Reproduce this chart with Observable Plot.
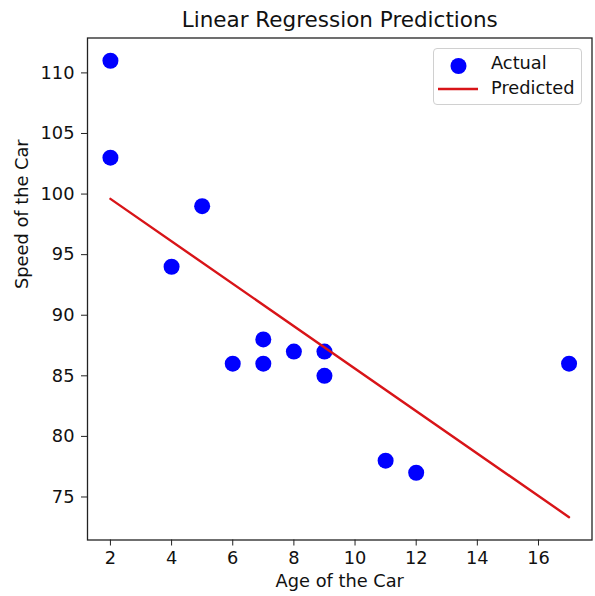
<!DOCTYPE html>
<html>
<head>
<meta charset="utf-8">
<script src="https://cdn.jsdelivr.net/npm/d3@7"></script>
<script src="https://cdn.jsdelivr.net/npm/@observablehq/plot@0.6"></script>
<style>
  html, body { margin: 0; padding: 0; background: white; }
  #wrap { position: relative; width: 595px; height: 596px; font-family: "DejaVu Sans", sans-serif; }
  #legend { position: absolute; left: 433px; top: 47.5px; width: 149px; height: 57px;
            border: 1px solid #d0d0d0; border-radius: 4px; background: rgba(255,255,255,0.85); box-sizing: border-box; }
  #legend .sym { position: absolute; }
  #legend .lab { position: absolute; left: 57px; font-size: 17.8px; line-height: 20px; color: #111; }
</style>
</head>
<body>
<div id="wrap"></div>
<script>
// Data (car age vs speed)
const ages   = [5, 7, 8, 7, 2, 17, 2, 9, 4, 11, 12, 9, 6];
const speeds = [99, 86, 87, 88, 111, 86, 103, 87, 94, 78, 77, 85, 86];
const xTicks = [2, 4, 6, 8, 10, 12, 14, 16];
const yTicks = [75, 80, 85, 90, 95, 100, 105, 110];
const titleText = "Linear Regression Predictions";
const xLabel = "Age of the Car";
const yLabel = "Speed of the Car";
const seriesNames = ["Actual", "Predicted"];

const data = ages.map((a, i) => ({age: a, speed: speeds[i]}));

const chart = Plot.plot({
  width: 595,
  height: 596,
  marginLeft: 87,
  marginRight: 3.5,
  marginTop: 37.5,
  marginBottom: 56.5,
  style: {fontFamily: "DejaVu Sans", fontSize: "17.8px", color: "#111", background: "white"},
  x: {domain: [1.25, 17.75]},
  y: {domain: [71.45, 112.88]},
  marks: [
    Plot.dot(data, {x: "age", y: "speed", r: 8, fill: "#0000ff", stroke: "none"}),
    Plot.linearRegressionY(data, {x: "age", y: "speed", stroke: "#d81418", strokeWidth: 2.4, ci: 0}),
    Plot.frame({stroke: "#222", strokeWidth: 1.3}),
    Plot.axisX({ticks: xTicks, tickSize: 6, tickPadding: 5, label: null, stroke: "#222"}),
    Plot.axisY({ticks: yTicks, tickSize: 6, tickPadding: 7, label: null, stroke: "#222"}),
    Plot.text([titleText], {text: d => d, frameAnchor: "top", lineAnchor: "middle", dy: -17.5, fontSize: 21.5}),
    Plot.text([xLabel], {text: d => d, frameAnchor: "bottom", lineAnchor: "middle", dy: 41.5, fontSize: 17.8}),
    Plot.text([yLabel], {text: d => d, frameAnchor: "left", lineAnchor: "middle", rotate: -90, dx: -65.5, fontSize: 17.8})
  ]
});

const wrap = document.getElementById("wrap");
wrap.appendChild(chart);

// Legend
const legend = document.createElement("div");
legend.id = "legend";
legend.innerHTML = `
  <svg class="sym" style="left:0;top:0" width="148" height="56">
    <circle cx="24.5" cy="17" r="8" fill="#0000ff"></circle>
    <line x1="4" y1="40" x2="44" y2="40" stroke="#d81418" stroke-width="2.4"></line>
  </svg>
  <div class="lab" style="top:4px">${seriesNames[0]}</div>
  <div class="lab" style="top:29.5px">${seriesNames[1]}</div>`;
wrap.appendChild(legend);
</script>
</body>
</html>
